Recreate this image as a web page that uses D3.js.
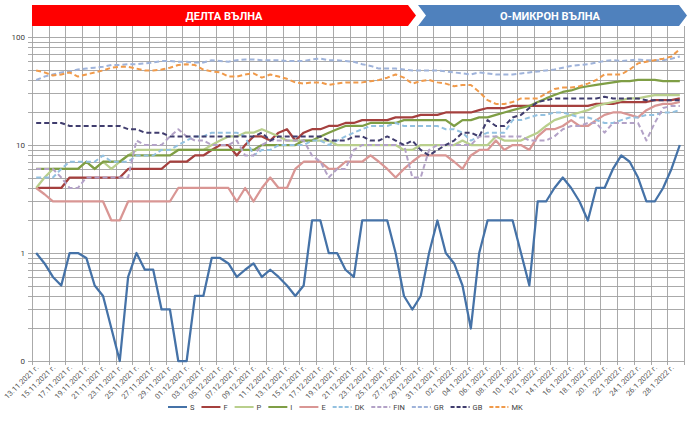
<!DOCTYPE html>
<html>
<head>
<meta charset="utf-8">
<script src="https://cdn.jsdelivr.net/npm/d3@7"></script>
<style>
body { margin: 0; background: #fff; }
text { font-family: Roboto, "Liberation Sans", sans-serif; }
</style>
</head>
<body>
<svg id="chart" width="694" height="429"></svg>
<script>
// tick labels, one every second day
const tickLabels = [
    '13.11.2021 г.', '15.11.2021 г.', '17.11.2021 г.', '19.11.2021 г.', '21.11.2021 г.',
    '23.11.2021 г.', '25.11.2021 г.', '27.11.2021 г.', '29.11.2021 г.', '01.12.2021 г.',
    '03.12.2021 г.', '05.12.2021 г.', '07.12.2021 г.', '09.12.2021 г.', '11.12.2021 г.',
    '13.12.2021 г.', '15.12.2021 г.', '17.12.2021 г.', '19.12.2021 г.', '21.12.2021 г.',
    '23.12.2021 г.', '25.12.2021 г.', '27.12.2021 г.', '29.12.2021 г.', '31.12.2021 г.',
    '02.1.2022 г.', '04.1.2022 г.', '06.1.2022 г.', '08.1.2022 г.', '10.1.2022 г.',
    '12.1.2022 г.', '14.1.2022 г.', '16.1.2022 г.', '18.1.2022 г.', '20.1.2022 г.',
    '22.1.2022 г.', '24.1.2022 г.', '26.1.2022 г.', '28.1.2022 г.'
];

const S = [1, 0.8, 0.6, 0.5, 1, 1, 0.9, 0.5, 0.4, 0.2,
    0.1, 0.6, 1, 0.7, 0.7, 0.3, 0.3, 0.1, 0.1, 0.4,
    0.4, 0.9, 0.9, 0.8, 0.6, 0.7, 0.8, 0.6, 0.7, 0.6,
    0.5, 0.4, 0.5, 2, 2, 1, 1, 0.7, 0.6, 2,
    2, 2, 2, 1, 0.4, 0.3, 0.4, 1, 2, 1,
    0.8, 0.5, 0.2, 1, 2, 2, 2, 2, 1, 0.5,
    3, 3, 4, 5, 4, 3, 2, 4, 4, 6,
    8, 7, 5, 3, 3, 4, 6, 10];
const F = [4, 4, 4, 4, 5, 5, 5, 5, 5, 5,
    5, 6, 6, 6, 6, 6, 7, 7, 7, 8,
    8, 9, 10, 10, 8, 10, 12, 12, 11, 13,
    14, 11, 13, 14, 14, 15, 15, 16, 16, 17,
    17, 17, 17, 18, 18, 18, 19, 19, 19, 20,
    20, 20, 20, 21, 22, 22, 22, 23, 23, 23,
    23, 23, 23, 23, 23, 23, 23, 24, 24, 24,
    25, 25, 25, 25, 26, 26, 26, 27];
const P = [4, 5, 6, 6, 6, 6, 7, 6, 7, 6,
    7, 8, 9, 9, 9, 9, 9, 9, 9, 9,
    9, 10, 11, 12, 12, 13, 13, 14, 13, 12,
    11, 11, 11, 11, 11, 11, 10, 10, 10, 10,
    10, 10, 10, 10, 9, 9, 10, 10, 10, 10,
    10, 11, 10, 10, 10, 12, 11, 11, 11, 12,
    13, 15, 17, 18, 19, 20, 21, 23, 24, 25,
    26, 27, 27, 28, 29, 29, 29, 29];
const I = [6, 6, 6, 6, 6, 6, 7, 6, 7, 7,
    7, 8, 8, 8, 8, 8, 8, 9, 9, 9,
    9, 9, 9, 9, 9, 9, 9, 10, 10, 10,
    10, 10, 11, 11, 12, 13, 14, 15, 15, 15,
    16, 16, 16, 16, 17, 17, 17, 17, 17, 17,
    15, 17, 17, 18, 18, 19, 20, 21, 22, 23,
    25, 27, 29, 31, 32, 34, 35, 36, 37, 38,
    39, 39, 40, 40, 40, 39, 39, 39];
const E = [4, 3.5, 3, 3, 3, 3, 3, 3, 3, 2,
    2, 3, 3, 3, 3, 3, 3, 4, 4, 4,
    4, 4, 4, 4, 3, 4, 3, 4, 5, 4,
    4, 6, 7, 7, 7, 6, 6, 7, 7, 7,
    8, 7, 6, 5, 6, 7, 8, 8, 8, 8,
    7, 6, 8, 9, 9, 11, 9, 10, 10, 9,
    12, 14, 14, 15, 17, 15, 15, 17, 19, 20,
    20, 19, 18, 21, 23, 24, 24, 25];
const DK = [5, 5, 5, 6, 7, 7, 7, 7, 8, 7,
    7, 7, 8, 8, 8, 9, 9, 10, 11, 12,
    12, 13, 13, 13, 13, 12, 8, 9, 9, 10,
    10, 10, 10, 11, 11, 10, 11, 12, 13, 14,
    15, 15, 15, 16, 15, 15, 15, 15, 15, 14,
    14, 13, 11, 12, 13, 13, 13, 17, 17, 18,
    19, 19, 20, 20, 19, 18, 18, 17, 16, 16,
    17, 18, 18, 19, 19, 20, 20, 21];
const FIN = [6, 6, 6, 5, 4, 4, 5, 5, 5, 5,
    5, 5, 11, 10, 10, 10, 12, 14, 12, 11,
    11, 10, 10, 10, 11, 8, 8, 10, 11, 11,
    11, 11, 11, 8, 7, 5, 6, 6, 9, 10,
    10, 10, 10, 10, 10, 5, 5, 9, 10, 10,
    10, 10, 10, 12, 12, 12, 12, 12, 12, 11,
    11, 11, 12, 14, 15, 15, 16, 16, 13, 16,
    16, 16, 16, 11, 16, 22, 23, 23];
const GR = [40, 43, 45, 47, 48, 50, 51, 52, 53, 55,
    55, 56, 56, 57, 58, 60, 60, 59, 59, 58,
    58, 61, 60, 59, 61, 62, 62, 61, 61, 61,
    60, 60, 60, 62, 63, 61, 61, 60, 59, 56,
    54, 51, 51, 51, 50, 49, 49, 49, 49, 48,
    47, 46, 45, 47, 46, 45, 45, 45, 46, 47,
    48, 49, 50, 52, 54, 55, 56, 58, 60, 61,
    60, 61, 62, 61, 61, 61, 63, 66];
const GB = [16, 16, 16, 16, 15, 15, 15, 15, 15, 15,
    15, 14, 14, 13, 13, 13, 12, 12, 12, 12,
    12, 12, 12, 12, 12, 12, 12, 13, 11, 12,
    12, 12, 12, 12, 12, 11, 11, 11, 12, 12,
    11, 11, 12, 11, 10, 11, 9, 8, 9, 10,
    11, 13, 13, 12, 17, 15, 15, 18, 19, 22,
    25, 26, 27, 27, 27, 27, 27, 27, 28, 27,
    27, 27, 27, 26, 26, 26, 26, 26];
const MK = [49, 47, 44, 45, 47, 43, 45, 47, 49, 52,
    53, 53, 51, 49, 49, 50, 52, 55, 56, 55,
    50, 48, 47, 43, 43, 45, 46, 42, 45, 43,
    41, 38, 37, 38, 38, 36, 37, 38, 38, 38,
    39, 40, 42, 45, 42, 37, 39, 40, 38, 37,
    35, 36, 36, 31, 26, 24, 24, 25, 27, 27,
    27, 30, 33, 34, 34, 35, 37, 40, 45, 45,
    45, 50, 57, 59, 61, 63, 66, 77];

const seriesNames = ['S', 'F', 'P', 'I', 'E', 'DK', 'FIN', 'GR', 'GB', 'MK'];
const seriesValues = [S, F, P, I, E, DK, FIN, GR, GB, MK];

// styles
const colors = ['#4572a7', '#a5403e', '#b9cf8c', '#7f9e45', '#d99694',
    '#93c1e0', '#b3a2c7', '#9fb3da', '#403d6e', '#f09a4a'];
const dashed = [false, false, false, false, false, true, true, true, true, true];

const svg = d3.select('#chart');
const plotLeft = 32, plotRight = 684, plotTop = 37, plotBottom = 361;
const nCat = S.length;

const x = d3.scaleLinear().domain([0, nCat]).range([plotLeft, plotRight]);
const y = d3.scaleLog().domain([0.1, 100]).range([plotBottom, plotTop]);

// banners
const banners = svg.append('g');
banners.append('path')
    .attr('d', 'M32,5 L408,5 L416,15.5 L408,26 L32,26 Z')
    .attr('fill', '#ff0000');
banners.append('path')
    .attr('d', 'M418,5 L679,5 L687,15.5 L679,26 L418,26 L426,15.5 Z')
    .attr('fill', '#4f81bd');
banners.append('text')
    .attr('x', 224).attr('y', 19.5)
    .attr('text-anchor', 'middle')
    .attr('fill', '#fff')
    .attr('font-size', 11)
    .attr('font-weight', 'bold')
    .text('ДЕЛТА ВЪЛНА');
banners.append('text')
    .attr('x', 550).attr('y', 19.5)
    .attr('text-anchor', 'middle')
    .attr('fill', '#fff')
    .attr('font-size', 11)
    .attr('font-weight', 'bold')
    .text('О-МИКРОН ВЪЛНА');

// grid
const grid = svg.append('g').attr('stroke', '#a0a0a0').attr('stroke-width', 0.9);
grid.selectAll('line.h')
    .data(y.ticks())
    .join('line')
    .attr('class', 'h')
    .attr('x1', plotLeft - 4).attr('x2', plotRight)
    .attr('y1', d => Math.round(y(d)) + 0.5)
    .attr('y2', d => Math.round(y(d)) + 0.5);
grid.selectAll('line.v')
    .data(d3.range(0, nCat + 1, 2))
    .join('line')
    .attr('class', 'v')
    .attr('x1', d => Math.round(x(d)) + 0.5)
    .attr('x2', d => Math.round(x(d)) + 0.5)
    .attr('y1', 26).attr('y2', plotBottom + 4);

// y labels
const yLabels = [0.1, 1, 10, 100];
svg.append('g')
    .selectAll('text')
    .data(yLabels)
    .join('text')
    .attr('x', 25)
    .attr('y', d => y(d) + 3)
    .attr('text-anchor', 'end')
    .attr('font-size', 8)
    .attr('fill', '#404040')
    .text(d => d < 1 ? '0' : d);

// x labels
svg.append('g')
    .selectAll('text')
    .data(tickLabels)
    .join('text')
    .attr('text-anchor', 'end')
    .attr('font-size', 7.5)
    .attr('fill', '#595959')
    .attr('transform', (d, k) => `translate(${x(k * 2 + 0.5) + 3}, ${plotBottom + 7}) rotate(-45)`)
    .text(d => d);

// lines
const line = d3.line()
    .x((d, i) => x(i + 0.5))
    .y(d => y(d));

svg.append('g')
    .selectAll('path')
    .data(seriesValues)
    .join('path')
    .attr('fill', 'none')
    .attr('stroke', (d, i) => colors[i])
    .attr('stroke-width', (d, i) => dashed[i] ? 2 : 2.25)
    .attr('stroke-dasharray', (d, i) => dashed[i] ? '5,3' : null)
    .attr('stroke-linejoin', 'round')
    .attr('d', line);

// legend
const legend = svg.append('g').attr('font-size', 7.5).attr('fill', '#404040');
let lx = 168;
seriesNames.forEach((name, i) => {
    legend.append('line')
        .attr('x1', lx).attr('x2', lx + 19)
        .attr('y1', 407).attr('y2', 407)
        .attr('stroke', colors[i])
        .attr('stroke-width', 2)
        .attr('stroke-dasharray', dashed[i] ? '4,2' : null);
    const t = legend.append('text')
        .attr('x', lx + 22).attr('y', 410)
        .text(name);
    lx += 22 + t.node().getComputedTextLength() + 7;
});
</script>
</body>
</html>
